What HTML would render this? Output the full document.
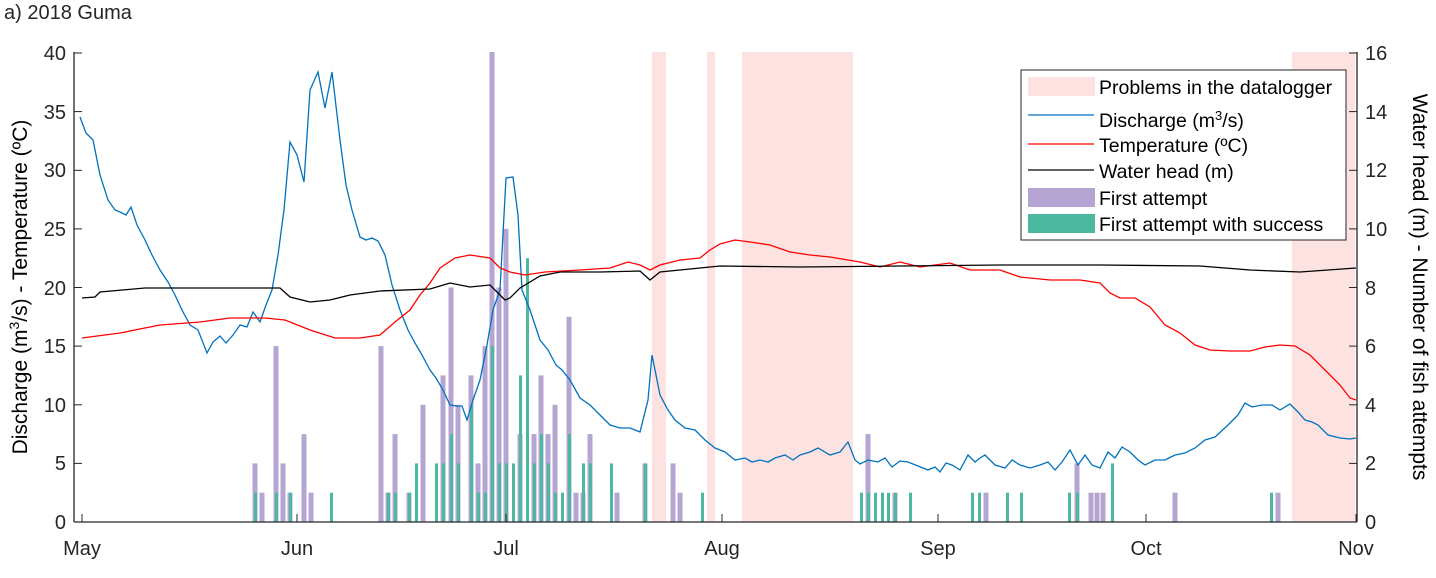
<!DOCTYPE html>
<html><head><meta charset="utf-8"><style>
body{margin:0;background:#fff;}
svg{display:block;font-family:"Liberation Sans",Arial,sans-serif;}
</style></head><body>
<svg width="1436" height="578" viewBox="0 0 1436 578" xmlns="http://www.w3.org/2000/svg">
<rect width="1436" height="578" fill="#fff"/>
<text x="4" y="19" font-size="20" fill="#262626">a) 2018 Guma</text>
<g fill="#fde2e2">
<rect x="652" y="52" width="14" height="470"/>
<rect x="707" y="52" width="8" height="470"/>
<rect x="742" y="52" width="111" height="470"/>
<rect x="1292" y="52" width="63" height="470"/>
</g>
<g fill="#b4a5d3">
<rect x="252.5" y="463.4" width="5" height="58.6"/><rect x="259.5" y="492.7" width="5" height="29.3"/>
<rect x="273.5" y="346.1" width="5" height="175.9"/><rect x="280.5" y="463.4" width="5" height="58.6"/>
<rect x="287.5" y="492.7" width="5" height="29.3"/><rect x="301.5" y="434.1" width="5" height="87.9"/>
<rect x="308.5" y="492.7" width="5" height="29.3"/>
<rect x="378.5" y="346.1" width="5" height="175.9"/><rect x="385.5" y="492.7" width="5" height="29.3"/>
<rect x="392.5" y="434.1" width="5" height="87.9"/><rect x="406.5" y="492.7" width="5" height="29.3"/>
<rect x="420.5" y="404.8" width="5" height="117.2"/>
<rect x="440.5" y="375.4" width="5" height="146.6"/><rect x="448.5" y="287.5" width="5" height="234.5"/>
<rect x="455.5" y="404.8" width="5" height="117.2"/><rect x="468.5" y="375.4" width="5" height="146.6"/>
<rect x="475.5" y="463.4" width="5" height="58.6"/><rect x="482.5" y="346.1" width="5" height="175.9"/>
<rect x="489.5" y="52" width="5" height="470"/><rect x="496.5" y="287.5" width="5" height="234.5"/>
<rect x="503.5" y="228.9" width="5" height="293.1"/><rect x="517.5" y="434.1" width="5" height="87.9"/>
<rect x="531.5" y="434.1" width="5" height="87.9"/><rect x="538.5" y="375.4" width="5" height="146.6"/>
<rect x="545.5" y="434.1" width="5" height="87.9"/><rect x="552.5" y="404.8" width="5" height="117.2"/>
<rect x="566.5" y="316.8" width="5" height="205.2"/><rect x="573.5" y="492.7" width="5" height="29.3"/>
<rect x="580.5" y="492.7" width="5" height="29.3"/><rect x="587.5" y="434.1" width="5" height="87.9"/>
<rect x="614.5" y="492.7" width="5" height="29.3"/><rect x="642.5" y="463.4" width="5" height="58.6"/>
<rect x="670.5" y="463.4" width="5" height="58.6"/><rect x="677.5" y="492.7" width="5" height="29.3"/>
<rect x="865.5" y="434.1" width="5" height="87.9"/><rect x="892.5" y="492.7" width="5" height="29.3"/>
<rect x="983.5" y="492.7" width="5" height="29.3"/><rect x="1074.5" y="463.4" width="5" height="58.6"/>
<rect x="1088.5" y="492.7" width="5" height="29.3"/><rect x="1094.5" y="492.7" width="5" height="29.3"/>
<rect x="1100.5" y="492.7" width="5" height="29.3"/><rect x="1172.5" y="492.7" width="5" height="29.3"/>
<rect x="1275.5" y="492.7" width="5" height="29.3"/>
</g>
<g fill="#4db8a0">
<rect x="254" y="492.7" width="3" height="29.3"/><rect x="275" y="492.7" width="3" height="29.3"/>
<rect x="289" y="492.7" width="3" height="29.3"/><rect x="330" y="492.7" width="3" height="29.3"/>
<rect x="387" y="492.7" width="3" height="29.3"/><rect x="394" y="492.7" width="3" height="29.3"/>
<rect x="408" y="492.7" width="3" height="29.3"/><rect x="415" y="463.4" width="3" height="58.6"/>
<rect x="435" y="463.4" width="3" height="58.6"/><rect x="442" y="463.4" width="3" height="58.6"/>
<rect x="450" y="434.1" width="3" height="87.9"/><rect x="457" y="463.4" width="3" height="58.6"/>
<rect x="470" y="404.8" width="3" height="117.2"/><rect x="477" y="492.7" width="3" height="29.3"/>
<rect x="484" y="492.7" width="3" height="29.3"/><rect x="491" y="346.1" width="3" height="175.9"/>
<rect x="498" y="463.4" width="3" height="58.6"/><rect x="505" y="463.4" width="3" height="58.6"/>
<rect x="512" y="463.4" width="3" height="58.6"/><rect x="519" y="375.4" width="3" height="146.6"/>
<rect x="526" y="258.2" width="3" height="263.8"/><rect x="533" y="463.4" width="3" height="58.6"/>
<rect x="540" y="434.1" width="3" height="87.9"/><rect x="547" y="463.4" width="3" height="58.6"/>
<rect x="554" y="492.7" width="3" height="29.3"/><rect x="561" y="492.7" width="3" height="29.3"/>
<rect x="568" y="434.1" width="3" height="87.9"/><rect x="582" y="463.4" width="3" height="58.6"/>
<rect x="589" y="463.4" width="3" height="58.6"/><rect x="610" y="463.4" width="3" height="58.6"/>
<rect x="644" y="463.4" width="3" height="58.6"/><rect x="701" y="492.7" width="3" height="29.3"/>
<rect x="860" y="492.7" width="3" height="29.3"/><rect x="867" y="492.7" width="3" height="29.3"/>
<rect x="874" y="492.7" width="3" height="29.3"/><rect x="881" y="492.7" width="3" height="29.3"/>
<rect x="887" y="492.7" width="3" height="29.3"/><rect x="894" y="492.7" width="3" height="29.3"/>
<rect x="909" y="492.7" width="3" height="29.3"/><rect x="971" y="492.7" width="3" height="29.3"/>
<rect x="978" y="492.7" width="3" height="29.3"/><rect x="1006" y="492.7" width="3" height="29.3"/>
<rect x="1020" y="492.7" width="3" height="29.3"/><rect x="1068" y="492.7" width="3" height="29.3"/>
<rect x="1076" y="492.7" width="3" height="29.3"/><rect x="1111" y="463.4" width="3" height="58.6"/>
<rect x="1270" y="492.7" width="3" height="29.3"/>
</g>
<polyline fill="none" stroke="#0072bd" stroke-width="1.3" points="80,117 86,133 93,140 100,175 108,200 115,210 120,212 126,215 131,207 137,225 145,240 152,255 160,270 168,282 175,295 182,310 190,325 198,330 207,353 213,342 220,336 226,343 233,335 240,325 247,327 253,312 260,322 266,305 272,290 278,255 284,210 290,142 297,155 304,182 310,90 318,72 325,108 332,72 340,140 346,185 352,210 360,237 366,240 372,238 378,241 385,255 392,285 400,310 408,330 415,343 422,355 430,370 436,378 443,390 450,405 456,406 462,406 467,420 473,400 480,380 487,345 493,310 500,290 506,178 513,177 518,215 522,290 530,310 540,340 548,350 556,365 562,370 570,380 580,398 590,405 600,415 610,425 620,428 630,428 640,432 648,400 652,355 656,375 660,395 668,410 675,420 685,428 695,430 705,440 715,448 725,452 735,460 745,458 752,462 760,460 768,462 775,458 785,455 793,460 800,455 810,452 818,448 830,455 840,452 848,442 855,460 860,464 868,460 878,462 885,458 892,467 900,461 908,462 918,466 928,470 935,467 940,472 946,463 952,465 960,470 968,455 975,462 980,458 985,455 995,465 1005,468 1012,460 1020,465 1030,468 1040,465 1048,462 1055,470 1062,462 1070,450 1078,465 1085,455 1092,465 1100,468 1108,452 1115,458 1122,447 1130,452 1138,460 1145,465 1155,460 1165,460 1175,455 1185,453 1195,448 1205,440 1215,437 1228,425 1238,415 1245,403 1252,407 1262,405 1272,405 1280,410 1290,404 1298,412 1305,420 1312,422 1318,425 1328,435 1340,438 1350,439 1356,438"/>
<polyline fill="none" stroke="#ff0000" stroke-width="1.3" points="82,338 120,333 160,325 200,322 230,318 265,318 285,320 310,330 335,338 360,338 380,335 395,322 410,310 420,295 430,283 440,268 455,258 470,255 490,258 500,268 510,272 525,275 545,272 580,270 610,268 628,262 640,265 650,270 660,265 680,260 700,258 710,250 720,244 735,240 750,242 770,245 790,252 810,255 830,257 860,262 880,267 900,262 920,267 950,263 970,270 1000,270 1020,277 1050,280 1080,280 1100,283 1110,293 1120,298 1135,298 1150,307 1165,325 1180,333 1195,345 1210,350 1230,351 1250,351 1265,347 1280,345 1295,346 1310,355 1325,370 1340,385 1350,398 1356,400"/>
<polyline fill="none" stroke="#000" stroke-width="1.3" points="82,298 95,297 100,292 145,288 280,288 290,297 310,302 330,300 350,295 380,291 430,289 450,283 470,287 490,285 505,300 510,298 520,288 540,276 560,272 600,272 640,271 650,280 660,272 680,270 700,268 720,266 800,267 900,266 1000,265 1100,265 1200,266 1250,270 1300,272 1356,268"/>
<g stroke="#262626" stroke-width="1.3" fill="none">
<line x1="74" y1="522" x2="1357" y2="522"/>
<line x1="74" y1="52" x2="74" y2="522"/>
<line x1="1357" y1="52" x2="1357" y2="522"/>
</g>
<g stroke="#262626" stroke-width="1">
<line x1="74" y1="522" x2="82" y2="522"/><line x1="74" y1="463.4" x2="82" y2="463.4"/><line x1="74" y1="404.8" x2="82" y2="404.8"/><line x1="74" y1="346.1" x2="82" y2="346.1"/><line x1="74" y1="287.5" x2="82" y2="287.5"/><line x1="74" y1="228.9" x2="82" y2="228.9"/><line x1="74" y1="170.3" x2="82" y2="170.3"/><line x1="74" y1="111.6" x2="82" y2="111.6"/><line x1="74" y1="53" x2="82" y2="53"/>
<line x1="1349" y1="522" x2="1357" y2="522"/><line x1="1349" y1="463.4" x2="1357" y2="463.4"/><line x1="1349" y1="404.8" x2="1357" y2="404.8"/><line x1="1349" y1="346.1" x2="1357" y2="346.1"/><line x1="1349" y1="287.5" x2="1357" y2="287.5"/><line x1="1349" y1="228.9" x2="1357" y2="228.9"/><line x1="1349" y1="170.3" x2="1357" y2="170.3"/><line x1="1349" y1="111.6" x2="1357" y2="111.6"/><line x1="1349" y1="53" x2="1357" y2="53"/>
<line x1="82" y1="522" x2="82" y2="514"/><line x1="297" y1="522" x2="297" y2="514"/><line x1="506" y1="522" x2="506" y2="514"/><line x1="722" y1="522" x2="722" y2="514"/><line x1="938" y1="522" x2="938" y2="514"/><line x1="1146" y1="522" x2="1146" y2="514"/><line x1="1356" y1="522" x2="1356" y2="514"/>
</g>
<g font-size="20" fill="#262626" text-anchor="end">
<text x="66" y="529">0</text><text x="66" y="470">5</text><text x="66" y="412">10</text><text x="66" y="353">15</text><text x="66" y="295">20</text><text x="66" y="236">25</text><text x="66" y="177">30</text><text x="66" y="119">35</text><text x="66" y="60">40</text>
</g>
<g font-size="20" fill="#262626">
<text x="1365" y="529">0</text><text x="1365" y="470">2</text><text x="1365" y="412">4</text><text x="1365" y="353">6</text><text x="1365" y="295">8</text><text x="1365" y="236">10</text><text x="1365" y="177">12</text><text x="1365" y="119">14</text><text x="1365" y="60">16</text>
</g>
<g font-size="20" fill="#262626" text-anchor="middle">
<text x="82" y="555">May</text><text x="297" y="555">Jun</text><text x="506" y="555">Jul</text><text x="722" y="555">Aug</text><text x="938" y="555">Sep</text><text x="1146" y="555">Oct</text><text x="1356" y="555">Nov</text>
</g>
<text transform="translate(27,287) rotate(-90)" font-size="21" fill="#000" text-anchor="middle">Discharge (m<tspan font-size="14" dy="-8">3</tspan><tspan dy="8">/s) - Temperature (ºC)</tspan></text>
<text transform="translate(1413,287) rotate(90)" font-size="21" fill="#000" text-anchor="middle">Water head (m) - Number of fish attempts</text>
<rect x="1021" y="70" width="325" height="170" fill="#fff" stroke="#262626" stroke-width="1"/>
<rect x="1028" y="77" width="67" height="19" fill="#fde2e2"/>
<line x1="1028" y1="115" x2="1094" y2="115" stroke="#0072bd" stroke-width="1.2"/>
<line x1="1028" y1="144" x2="1094" y2="144" stroke="#ff0000" stroke-width="1.2"/>
<line x1="1028" y1="170" x2="1094" y2="170" stroke="#000" stroke-width="1.2"/>
<rect x="1028" y="188" width="67" height="19" fill="#b4a5d3"/>
<rect x="1028" y="214" width="67" height="19" fill="#4db8a0"/>
<g font-size="19.5" fill="#000">
<text x="1099" y="94">Problems in the datalogger</text>
<text x="1099" y="127">Discharge (m<tspan font-size="13" dy="-7">3</tspan><tspan dy="7">/s)</tspan></text>
<text x="1099" y="152">Temperature (ºC)</text>
<text x="1099" y="178">Water head (m)</text>
<text x="1099" y="205">First attempt</text>
<text x="1099" y="231">First attempt with success</text>
</g>
</svg>
</body></html>
